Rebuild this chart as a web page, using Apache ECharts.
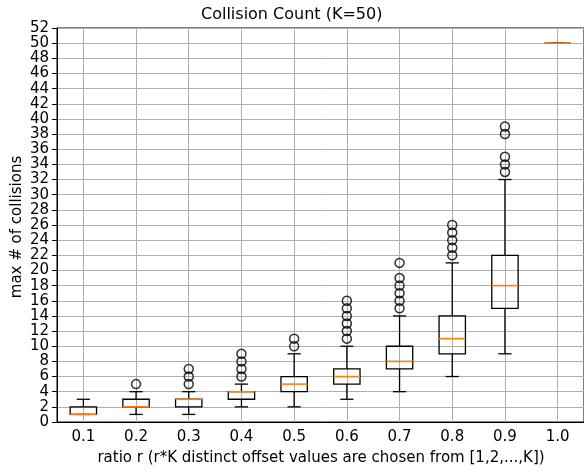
<!DOCTYPE html>
<html>
<head>
<meta charset="utf-8">
<script src="https://cdn.jsdelivr.net/npm/echarts@6/dist/echarts.min.js"></script>
<style>
  html, body { margin: 0; padding: 0; background: #fff; }
  #chart { width: 584px; height: 474px; }
</style>
</head>
<body>
<div id="chart"></div>
<script>
// one box per ratio r
let ratios = ['0.1', '0.2', '0.3', '0.4', '0.5', '0.6', '0.7', '0.8', '0.9', '1.0'];
let whiskerLow = [1, 1, 1, 2, 2, 3, 4, 6, 9, 50];
let q1 = [1, 2, 2, 3, 4, 5, 7, 9, 15, 50];
let medians = [1, 2, 3, 4, 5, 6, 8, 11, 18, 50];
let q3 = [2, 3, 3, 4, 6, 7, 10, 14, 22, 50];
let whiskerHigh = [3, 4, 4, 5, 9, 10, 14, 21, 32, 50];
let fliers = [
    [],
    [5],
    [5, 6, 7],
    [6, 7, 8, 9],
    [10, 11],
    [11, 12, 13, 14, 15, 16],
    [15, 16, 17, 18, 19, 21],
    [22, 23, 24, 25, 26],
    [33, 34, 35, 38, 39],
    []
];

let boxData = ratios.map(function (r, i) {
    return [i, whiskerLow[i], q1[i], medians[i], q3[i], whiskerHigh[i]];
});
let flierData = [];
fliers.forEach(function (list, i) {
    list.forEach(function (v) { flierData.push([i, v]); });
});

let font = 'DejaVu Sans';
let lineStyle = { stroke: '#000', lineWidth: 1.3, fill: null };

function renderBox(params, api) {
    let idx = api.value(0);
    let band = api.size([1, 0])[0];
    let half = band * 0.25;
    let capHalf = band * 0.125;
    let pLow = api.coord([idx, api.value(1)]);
    let pQ1 = api.coord([idx, api.value(2)]);
    let pMed = api.coord([idx, api.value(3)]);
    let pQ3 = api.coord([idx, api.value(4)]);
    let pHigh = api.coord([idx, api.value(5)]);
    let x = pMed[0];
    let seg = function (x1, y1, x2, y2, style) {
        return { type: 'line', shape: { x1: x1, y1: y1, x2: x2, y2: y2 }, style: style };
    };
    return {
        type: 'group',
        children: [
            seg(x, pQ3[1], x, pHigh[1], lineStyle),
            seg(x, pQ1[1], x, pLow[1], lineStyle),
            seg(x - capHalf, pHigh[1], x + capHalf, pHigh[1], lineStyle),
            seg(x - capHalf, pLow[1], x + capHalf, pLow[1], lineStyle),
            {
                type: 'rect',
                shape: { x: x - half, y: pQ3[1], width: half * 2, height: pQ1[1] - pQ3[1] },
                style: lineStyle
            },
            seg(x - half, pMed[1], x + half, pMed[1], { stroke: '#ff7f0e', lineWidth: 1.6 })
        ]
    };
}

let myChart = echarts.init(document.getElementById('chart'), null, { renderer: 'canvas' });
let option = {
    animation: false,
    backgroundColor: '#fff',
    title: {
        text: 'Collision Count (K=50)',
        left: 196,
        top: 2,
        textStyle: { fontFamily: font, fontSize: 16, fontWeight: 'normal', color: '#000' }
    },
    grid: {
        left: 57,
        top: 28,
        width: 557,
        height: 394,
        show: true,
        borderColor: '#000',
        borderWidth: 1
    },
    xAxis: {
        type: 'category',
        data: ratios,
        boundaryGap: true,
        axisLine: { lineStyle: { color: '#000', width: 1.2 } },
        axisTick: { alignWithLabel: true, length: 5, lineStyle: { color: '#000' } },
        axisLabel: { fontFamily: font, fontSize: 15, color: '#000', margin: 8 },
        splitLine: { show: true, alignWithLabel: true, lineStyle: { color: '#b0b0b0', width: 1 } }
    },
    yAxis: {
        type: 'value',
        min: 0,
        max: 52,
        interval: 2,
        axisLine: { show: true, lineStyle: { color: '#000', width: 1 } },
        axisTick: { show: true, length: 5, lineStyle: { color: '#000' } },
        axisLabel: { fontFamily: font, fontSize: 15, color: '#000', margin: 8 },
        splitLine: { show: true, lineStyle: { color: '#b0b0b0', width: 1 } }
    },
    graphic: [
        {
            type: 'text',
            x: 321,
            y: 458,
            style: {
                text: 'ratio r (r*K distinct offset values are chosen from [1,2,...,K])',
                font: '15px "DejaVu Sans"',
                fill: '#000',
                align: 'center',
                verticalAlign: 'middle'
            }
        },
        {
            type: 'text',
            x: 17,
            y: 227,
            rotation: Math.PI / 2,
            style: {
                text: 'max # of collisions',
                font: '15px "DejaVu Sans"',
                fill: '#000',
                align: 'center',
                verticalAlign: 'middle'
            }
        }
    ],
    series: [
        {
            type: 'custom',
            renderItem: renderBox,
            encode: { x: 0, y: [1, 2, 3, 4, 5] },
            data: boxData,
            z: 3
        },
        {
            type: 'scatter',
            data: flierData,
            symbol: 'circle',
            symbolSize: 9,
            itemStyle: { color: 'rgba(0,0,0,0)', borderColor: '#000', borderWidth: 1.5 },
            z: 4
        }
    ]
};
myChart.setOption(option);
</script>
</body>
</html>
